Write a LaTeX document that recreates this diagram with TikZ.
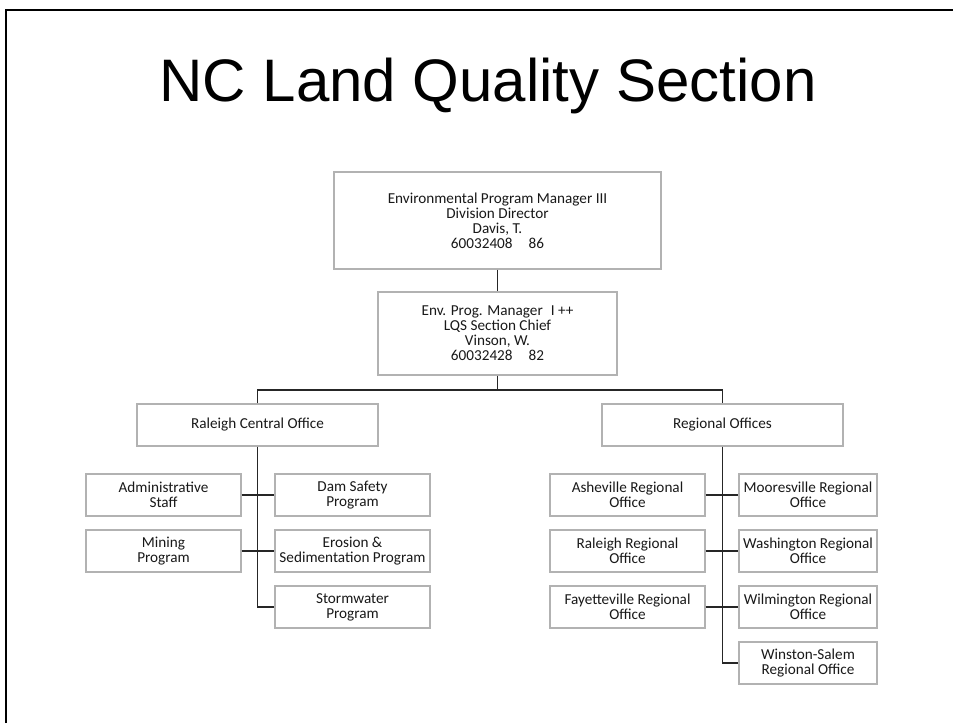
\documentclass[tikz,border=0pt]{standalone}
\usepackage{fontspec}
\setmainfont{Carlito}
\newfontfamily\titlefont{Liberation Sans}
\usetikzlibrary{positioning,shadows}
\tikzset{
  orgbox/.style={draw=black!30, line width=0.7pt, fill=white, align=center, inner sep=0pt,
    drop shadow={opacity=0.18, shadow xshift=0.6pt, shadow yshift=-0.6pt},
    font=\fontsize{7.6}{7.5}\selectfont, text=black!90},
  unitbox/.style={orgbox, minimum width=77.5pt, minimum height=21pt},
  regbox/.style={orgbox, minimum width=69pt, minimum height=21pt},
  link/.style={draw=black!85, line width=0.9pt},
}

\begin{document}
\begin{tikzpicture}[x=0.5pt,y=-0.5pt]
\useasboundingbox (0,0) rectangle (953,723);
% slide frame
\draw[line width=1.3pt] (6,723) -- (6,10) -- (953,10);
\node[font=\titlefont\fontsize{30}{36}\selectfont, anchor=base] (title) at (488,101) {NC Land Quality Section};

% top of the chart
\node[orgbox, minimum width=163.5pt, minimum height=48.5pt] (director) at (497.5,220.5)
  {Environmental Program Manager III\\Division Director\\Davis, T.\\60032408\hspace{8pt}86};
\node[orgbox, minimum width=119.5pt, minimum height=41.5pt] (chief) at (497.5,333.5)
  {Env. Prog. Manager\hspace{4pt}I ++\\LQS Section Chief\\Vinson, W.\\60032428\hspace{8pt}82};
\node[orgbox, minimum width=120.5pt, minimum height=21pt] (central) at (257.5,425) {Raleigh Central Office};
\node[orgbox, minimum width=120.5pt, minimum height=21pt] (regional) at (722.5,425) {Regional Offices};

% central office units
\node[unitbox] (admin) at (163.5,495) {Administrative\\Staff};
\node[unitbox] (mining) at (163.5,551) {Mining\\Program};
\node[unitbox] (dam) at (352.5,495) {Dam Safety\\Program};
\node[unitbox] (erosion) at (352.5,551) {Erosion \&\\Sedimentation Program};
\node[unitbox] (storm) at (352.5,607) {Stormwater\\Program};

% regional offices
\node[unitbox] (asheville) at (627.5,495) {Asheville Regional\\Office};
\node[unitbox] (raleigh) at (627.5,551) {Raleigh Regional\\Office};
\node[unitbox] (fayette) at (627.5,607) {Fayetteville Regional\\Office};
\node[regbox] (moores) at (808,495) {Mooresville Regional\\Office};
\node[regbox] (washington) at (808,551) {Washington Regional\\Office};
\node[regbox] (wilmington) at (808,607) {Wilmington Regional\\Office};
\node[regbox] (winston) at (808,663) {Winston-Salem\\Regional Office};

% connectors
\coordinate (split) at (497.5,390);
\draw[link] (director) -- (chief);
\draw[link] (chief) -- (split);
\draw[link] (central.north) |- (split) -| (regional.north);
\draw[link] (central.south) |- (storm.west);
\draw[link] (admin) -- (dam);
\draw[link] (mining) -- (erosion);
\draw[link] (regional.south) |- (winston.west);
\draw[link] (asheville) -- (moores);
\draw[link] (raleigh) -- (washington);
\draw[link] (fayette) -- (wilmington);
\end{tikzpicture}
\end{document}
